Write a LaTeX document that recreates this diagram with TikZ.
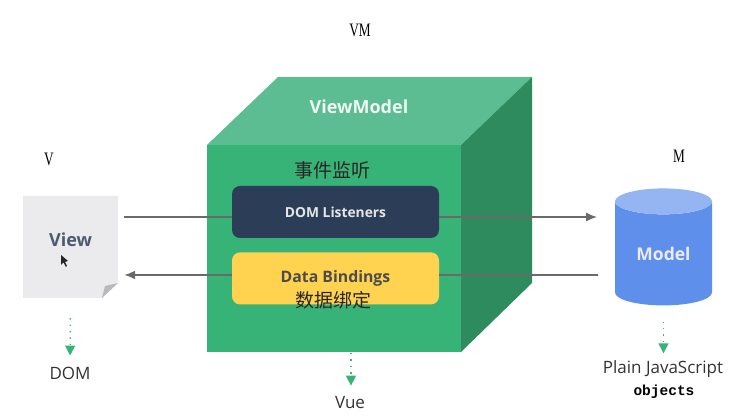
\documentclass[tikz,border=0pt]{standalone}
\usepackage{fontspec}
\setmainfont{Liberation Serif}
\setsansfont{Open Sans}
\setmonofont{Liberation Mono}
\newfontfamily\cjk{Noto Sans CJK SC}
\newfontfamily\narrowserif[FakeStretch=0.7]{Liberation Serif}
\usetikzlibrary{arrows.meta, positioning, shapes.geometric}

\definecolor{cubeFront}{HTML}{38B378}
\definecolor{cubeTop}{HTML}{5CBD92}
\definecolor{cubeSide}{HTML}{2E8B5E}
\definecolor{listenerBox}{HTML}{2C3E57}
\definecolor{bindingBox}{HTML}{FFD24F}
\definecolor{pageFill}{HTML}{EBEBEE}
\definecolor{pageFold}{HTML}{B9B9BB}
\definecolor{modelBody}{HTML}{5E8FEB}
\definecolor{modelEnd}{HTML}{94B4F2}
\definecolor{wire}{HTML}{6A6A6A}

\tikzset{
  box/.style={rounded corners=8pt, minimum width=207pt, minimum height=52pt, inner sep=0pt, font=\sffamily\bfseries\fontsize{13.8}{16}\selectfont},
  tag/.style={inner sep=0pt, font=\narrowserif\fontsize{19}{20}\selectfont},
  note/.style={inner sep=0pt, font=\cjk\fontsize{19}{20}\selectfont, text=black!85},
  caption/.style={inner sep=0pt, font=\sffamily\fontsize{17}{19}\selectfont, text=black!80},
  wireline/.style={draw=wire, line width=1.8pt, -{Latex[length=11pt,width=9pt]}},
  dotflow/.style={draw=cubeFront, line width=1.3pt, dash pattern=on 1.4pt off 5pt, -{Triangle[length=10pt,width=10pt]}},
}

\begin{document}
\begin{tikzpicture}[x=1pt, y=-1pt]
    \useasboundingbox (0,0) rectangle (732,419);

    % Draw the cube
    \fill[cubeTop] (207,145) -- (278,77) -- (532,77) -- (461,145) -- cycle;
    \fill[cubeSide] (461,145) -- (532,77) -- (532,283) -- (461,352) -- cycle;
    \fill[cubeFront] (207,145) rectangle (461,352);
    \coordinate (cubeBottom) at (351,352);

    % Draw the sheet of paper
    \fill[pageFill] (23,196) -- (118,196) -- (118,283) -- (102,298) -- (23,298) -- cycle;
    \fill[pageFold] (102,298) -- (118,283) -- (105,286) -- cycle;

    % Define nodes
    \node[inner sep=0pt, minimum width=95pt, minimum height=102pt, font=\sffamily\bfseries\fontsize{18}{20}\selectfont, text=listenerBox!85] (view) at (70.5,247) {\raisebox{14pt}{View}};
    \node[box, fill=listenerBox, text=white!90!black] (listeners) at (335.5,212) {DOM Listeners};
    \node[box, fill=bindingBox, text=black!70, below=14pt of listeners, font=\sffamily\bfseries\fontsize{15.8}{18}\selectfont] (bindings) {Data Bindings};
    \node[cylinder, shape border rotate=90, aspect=0.48, minimum width=97pt, minimum height=117pt, inner sep=0pt, cylinder uses custom fill, cylinder body fill=modelBody, cylinder end fill=modelEnd, text=white!92!blue, font=\sffamily\bfseries\fontsize{17.5}{19}\selectfont] (model) at (663.5,253.5) {Model};
    \node[inner sep=0pt, text=white!90!cubeTop, font=\sffamily\bfseries\fontsize{18}{20}\selectfont] (viewModel) at (359,107) {ViewModel};

    % Mouse pointer on the sheet
    \fill[black!85] (61,255) -- (61,265) -- (63.5,262.5) -- (66,267) -- (67,266) -- (65,262) -- (68,261) -- cycle;

    % Define labels
    \node[tag] (vmTag) at (360,30) {VM};
    \node[tag] (vTag) at (49,159) {V};
    \node[tag] (mTag) at (679,156) {M};
    \node[note] (listenNote) at (332,170) {事件监听};
    \node[note] (bindNote) at (333,300) {数据绑定};
    \node[caption] (domLabel) at (70,373) {DOM};
    \node[caption] (vueLabel) at (350,403) {Vue};
    \node[caption] (plainLabel) at (663,369) {Plain JavaScript};
    \node[inner sep=0pt, font=\ttfamily\bfseries\fontsize{14.5}{16}\selectfont] (objectsLabel) at (664,392) {objects};

    % Draw arrows between view, boxes and model
    \draw[draw=wire, line width=1.8pt] ([xshift=6pt,yshift=30pt]view.east) -- ([yshift=-5pt]listeners.west);
    \draw[wireline] ([yshift=-5pt]listeners.east) -- ([xshift=-115pt,yshift=36.5pt]model.east);
    \draw[draw=wire, line width=1.8pt] ([xshift=-114pt,yshift=-21.5pt]model.east) -- ([yshift=3.5pt]bindings.east);
    \draw[wireline] ([yshift=3.5pt]bindings.west) -- ([xshift=6pt,yshift=-28pt]view.east);

    % Draw dotted arrows down to the captions
    \draw[dotflow, shorten <=20pt, shorten >=11pt] (view.south) -- (domLabel.north);
    \draw[dotflow, shorten <=1pt, shorten >=11pt] (cubeBottom) -- (cubeBottom |- vueLabel.north);
    \draw[dotflow, shorten <=16pt, shorten >=7pt] (model.south) -- (model.south |- plainLabel.north);
\end{tikzpicture}
\end{document}
